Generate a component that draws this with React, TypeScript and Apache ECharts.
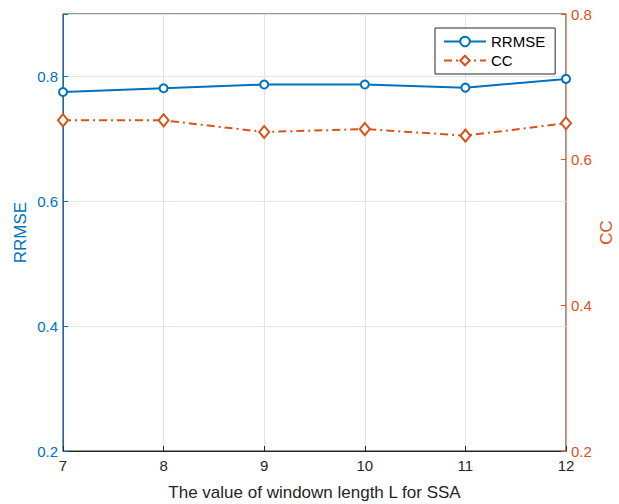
import React, { useEffect, useRef } from "react";
import * as echarts from "echarts";

const windowLengths = [7, 8, 9, 10, 11, 12];
const rrmseValues = [0.775, 0.781, 0.787, 0.787, 0.782, 0.796];
const ccValues = [0.654, 0.654, 0.638, 0.642, 0.633, 0.65];

const BLUE = "#0072BD";
const ORANGE = "#D95319";
const FONT = "Liberation Sans, Arial, sans-serif";

export default function App() {
  const ref = useRef<HTMLDivElement>(null);
  useEffect(() => {
    if (!ref.current) return;
    document.documentElement.style.overflow = "hidden";
    document.body.style.margin = "0";
    document.body.style.overflow = "hidden";
    const chart = echarts.init(ref.current, null, { renderer: "svg", width: 619, height: 504 });
    chart.setOption({
      animation: false,
      backgroundColor: "#ffffff",
      textStyle: { fontFamily: FONT },
      grid: {
        left: 63,
        right: 53,
        top: 14,
        bottom: 53,
        outerBoundsMode: "none",
        containLabel: false,
        show: true,
        borderColor: "#262626",
        borderWidth: 1,
        backgroundColor: "#ffffff",
      },
      legend: {
        orient: "vertical",
        left: 435,
        top: 28,
        padding: [6, 10, 6, 8],
        itemWidth: 42,
        itemHeight: 12,
        itemGap: 4,
        borderColor: "#262626",
        borderWidth: 1,
        backgroundColor: "#ffffff",
        textStyle: { fontSize: 15, color: "#000000", fontFamily: FONT },
        data: ["RRMSE", "CC"],
      },
      xAxis: {
        type: "value",
        min: 7,
        max: 12,
        interval: 1,
        name: "The value of windown length L for SSA",
        nameLocation: "middle",
        nameGap: 33,
        nameMoveOverlap: false,
        nameTextStyle: { fontSize: 17, color: "#262626", fontFamily: FONT },
        axisLine: { show: true, lineStyle: { color: "#262626", width: 1 } },
        axisTick: { show: true, inside: true, length: 5, lineStyle: { color: "#262626" } },
        axisLabel: { fontSize: 15, color: "#262626", margin: 7, fontFamily: FONT },
        splitLine: { show: true, lineStyle: { color: "#e3e3e3", width: 1 } },
      },
      yAxis: [
        {
          type: "value",
          position: "left",
          min: 0.2,
          max: 0.9,
          interval: 0.2,
          name: "RRMSE",
          nameLocation: "middle",
          nameGap: 34,
          nameRotate: 90,
          nameMoveOverlap: false,
          nameTextStyle: { fontSize: 17, color: BLUE, fontFamily: FONT },
          axisLine: { show: true, lineStyle: { color: BLUE, width: 1 } },
          axisTick: { show: true, inside: true, length: 5, lineStyle: { color: BLUE } },
          axisLabel: {
            fontSize: 15,
            color: BLUE,
            margin: 5,
            fontFamily: FONT,
            formatter: (v: number) => (Math.abs(v - 0.9) < 1e-6 ? "" : v.toFixed(1)),
          },
          splitLine: { show: true, lineStyle: { color: "#dbe9f4", width: 1 } },
        },
        {
          type: "value",
          position: "right",
          min: 0.2,
          max: 0.8,
          interval: 0.2,
          name: "CC",
          nameLocation: "middle",
          nameGap: 32,
          nameRotate: 90,
          nameMoveOverlap: false,
          nameTextStyle: { fontSize: 17, color: ORANGE, fontFamily: FONT },
          axisLine: { show: true, lineStyle: { color: "#ee9a78", width: 1 } },
          axisTick: { show: true, inside: true, length: 5, lineStyle: { color: ORANGE } },
          axisLabel: {
            fontSize: 15,
            color: ORANGE,
            margin: 5,
            fontFamily: FONT,
            formatter: (v: number) => v.toFixed(1),
          },
          splitLine: { show: false },
        },
      ],
      series: [
        {
          name: "RRMSE",
          type: "line",
          yAxisIndex: 0,
          data: windowLengths.map((x, i) => [x, rrmseValues[i]]),
          symbol: "circle",
          symbolSize: 8,
          showSymbol: true,
          color: BLUE,
          lineStyle: { color: BLUE, width: 2, type: "solid" },
          itemStyle: { color: "#ffffff", borderColor: BLUE, borderWidth: 2 },
          z: 3,
        },
        {
          name: "CC",
          type: "line",
          yAxisIndex: 1,
          data: windowLengths.map((x, i) => [x, ccValues[i]]),
          symbol: "diamond",
          symbolSize: [10, 12],
          showSymbol: true,
          color: ORANGE,
          lineStyle: { color: ORANGE, width: 2, type: [8, 4, 2, 4] },
          itemStyle: { color: "#ffffff", borderColor: ORANGE, borderWidth: 2 },
          z: 3,
        },
      ],
    });
    return () => chart.dispose();
  }, []);
  return <div ref={ref} style={{ width: 619, height: 504 }} />;
}
